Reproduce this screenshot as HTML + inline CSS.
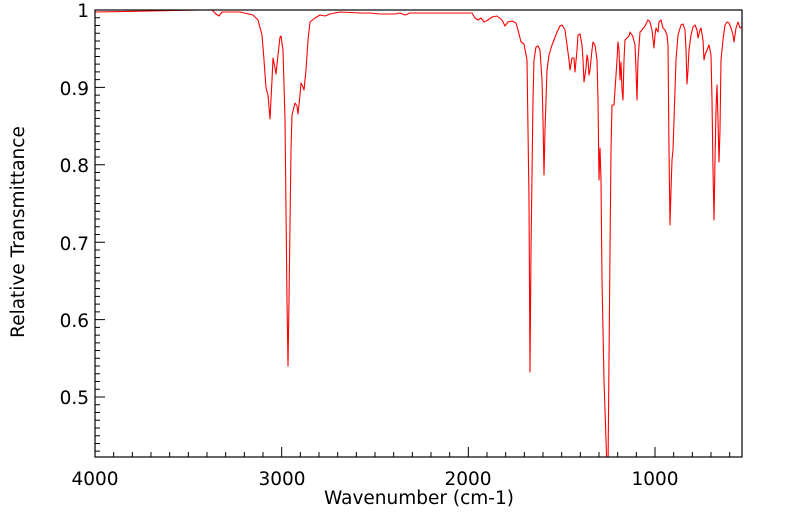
<!DOCTYPE html>
<html><head><meta charset="utf-8"><style>
html,body{margin:0;padding:0;background:#fff;}
svg{display:block;font-family:"DejaVu Sans","Liberation Sans",sans-serif;}
</style></head><body>
<svg width="799" height="516" viewBox="0 0 799 516">
<defs><clipPath id="c"><rect x="95" y="10" width="647" height="447"/></clipPath></defs>
<path fill="none" stroke="#000" stroke-width="1" d="M95,457 v-10 m18.667,10 v-5 m18.667,5 v-5 m18.667,5 v-5 m18.667,5 v-5 m18.667,5 v-5 m18.667,5 v-5 m18.667,5 v-5 m18.667,5 v-5 m18.667,5 v-5 m18.667,5 v-10 m18.667,10 v-5 m18.667,5 v-5 m18.667,5 v-5 m18.667,5 v-5 m18.667,5 v-5 m18.667,5 v-5 m18.667,5 v-5 m18.667,5 v-5 m18.667,5 v-5 m18.667,5 v-10 m18.667,10 v-5 m18.667,5 v-5 m18.667,5 v-5 m18.667,5 v-5 m18.667,5 v-5 m18.667,5 v-5 m18.667,5 v-5 m18.667,5 v-5 m18.667,5 v-5 m18.667,5 v-10 m18.667,10 v-5 m18.667,5 v-5 m18.667,5 v-5 m18.667,5 v-5
M95,10 h10 m-10,7.74 h5 m-5,7.74 h5 m-5,7.74 h5 m-5,7.74 h5 m-5,7.74 h5 m-5,7.74 h5 m-5,7.74 h5 m-5,7.74 h5 m-5,7.74 h5 m-5,7.74 h10 m-10,7.74 h5 m-5,7.74 h5 m-5,7.74 h5 m-5,7.74 h5 m-5,7.74 h5 m-5,7.74 h5 m-5,7.74 h5 m-5,7.74 h5 m-5,7.74 h5 m-5,7.74 h10 m-10,7.74 h5 m-5,7.74 h5 m-5,7.74 h5 m-5,7.74 h5 m-5,7.74 h5 m-5,7.74 h5 m-5,7.74 h5 m-5,7.74 h5 m-5,7.74 h5 m-5,7.74 h10 m-10,7.74 h5 m-5,7.74 h5 m-5,7.74 h5 m-5,7.74 h5 m-5,7.74 h5 m-5,7.74 h5 m-5,7.74 h5 m-5,7.74 h5 m-5,7.74 h5 m-5,7.74 h10 m-10,7.74 h5 m-5,7.74 h5 m-5,7.74 h5 m-5,7.74 h5 m-5,7.74 h5 m-5,7.74 h5 m-5,7.74 h5 m-5,7.74 h5 m-5,7.74 h5 m-5,7.74 h10 m-10,7.74 h5 m-5,7.74 h5 m-5,7.74 h5 m-5,7.74 h5 m-5,7.74 h5 m-5,7.74 h5 m-5,7.74 h5"/>
<polyline clip-path="url(#c)" fill="none" stroke="#ff0000" stroke-width="1.1" stroke-linejoin="round" points="95,12 150,11 200,10 212,10 216,14 219,16 222,12 240,12 253,15 258,20 262,35 264,60 266,88 268,95 270,119 272,80 273,58 275,68 276,74 278,55 280,37 281,36 283,50 285,120 287,300 288,366 289,300 291,150 292,115 295,103 297,106 298,114 300,95 301,83 303,87 304,90 306,70 308,40 310,22 315,18 320,15 325,16 330,14 340,12 360,13 370,13 380,14 395,14 400,13 405,15 410,13 430,13 460,13 472,13 475,18 478,20 481,18 484,22 488,20 492,17 497,16 502,20 505,26 508,22 512,21 516,23 518,30 521,42 524,44 527,60 529,200 530,372 531,250 533,100 534,60 536,47 538,46 540,50 542,80 543,120 544,175 545,130 547,70 549,55 552,45 554,40 557,32 560,26 562,25 565,30 567,45 569,60 570,70 572,58 574,58 575,72 577,50 578,35 580,34 582,45 583,60 584,82 586,68 587,55 588,60 589,75 590,70 592,50 593,42 595,45 597,60 598,100 599,180 600,148 601,180 602,280 604,380 607,470 608,470 610,250 611,150 612,105 614,105 615,90 617,60 618,42 619,50 620,80 621,62 622,90 623,100 624,60 625,40 627,38 629,36 630,32 632,35 633,37 635,45 636,70 637,100 638,60 640,32 642,30 645,26 648,20 650,22 652,30 654,48 655,35 656,28 657,30 658,32 659,22 661,20 662,24 663,28 665,30 667,35 668,45 669,150 670,225 671,190 672,160 673,150 674,120 676,60 678,35 681,25 683,24 685,30 686,50 687,84 688,70 689,50 691,35 693,27 695,25 697,30 698,38 700,30 701,28 703,40 704,60 705,55 707,50 709,45 711,55 712,100 713,170 714,220 715,160 716,110 717,85 718,120 719,162 720,130 721,60 723,40 725,25 727,22 729,23 731,28 733,35 734,42 736,28 738,22 740,28 742,27"/>
<rect x="95" y="10" width="647" height="447" fill="none" stroke="#000" stroke-width="1.2"/>
<g font-size="18.5" fill="#000" text-anchor="end">
<text x="89" y="17">1</text>
<text x="89" y="95">0.9</text>
<text x="89" y="172">0.8</text>
<text x="89" y="250">0.7</text>
<text x="89" y="327">0.6</text>
<text x="89" y="404">0.5</text>
</g>
<g font-size="18.5" fill="#000" text-anchor="middle">
<text x="95" y="485">4000</text>
<text x="282" y="485">3000</text>
<text x="468" y="485">2000</text>
<text x="655" y="485">1000</text>
<text x="419" y="504">Wavenumber (cm-1)</text>
<text transform="translate(24,232) rotate(-90)">Relative Transmittance</text>
</g>
</svg>
</body></html>
